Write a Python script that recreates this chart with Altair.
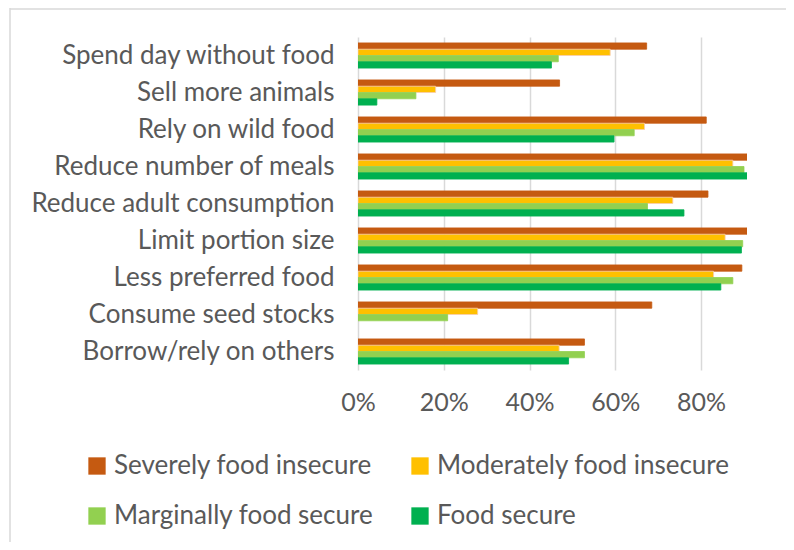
import altair as alt
import pandas as pd

categories = [
    "Spend day without food",
    "Sell more animals",
    "Rely on wild food",
    "Reduce number of meals",
    "Reduce adult consumption",
    "Limit portion size",
    "Less preferred food",
    "Consume seed stocks",
    "Borrow/rely on others",
]
series = [
    "Severely food insecure",
    "Moderately food insecure",
    "Marginally food secure",
    "Food secure",
]
severe = [67.3, 47.0, 81.2, 90.7, 81.6, 90.7, 89.5, 68.5, 52.8]
moderate = [58.8, 18.1, 66.8, 87.4, 73.4, 85.6, 82.9, 27.9, 46.9]
marginal = [46.7, 13.5, 64.4, 90.0, 67.5, 89.7, 87.4, 20.9, 52.8]
secure = [45.1, 4.4, 59.7, 90.7, 76.0, 89.4, 84.6, 0.0, 49.1]
tick_values = [0, 0.2, 0.4, 0.6, 0.8]

fill_colors = {"Severely food insecure": "#C55A11", "Moderately food insecure": "#FFC000",
               "Marginally food secure": "#92D050", "Food secure": "#00B050"}
stroke_colors = {"Severely food insecure": "#C55A11", "Moderately food insecure": "#F8CBAD",
                 "Marginally food secure": "#92D050", "Food secure": "#00B050"}
# legend is laid out column by column: put the entries so rows read as in the reference
legend_order = [series[0], series[2], series[1], series[3]]

rows = []
for s, vals in zip(series, [severe, moderate, marginal, secure]):
    for c, v in zip(categories, vals):
        if v > 0:
            rows.append({"Category": c, "Series": s, "Value": v / 100})
df = pd.DataFrame(rows)

FONT = "Lato"
TXT = "#595959"

bars = alt.Chart(df).mark_bar(clip=True, strokeWidth=0.8).encode(
    y=alt.Y(
        "Category:N",
        sort=categories,
        scale=alt.Scale(paddingInner=0.32, paddingOuter=0.16),
        axis=alt.Axis(
            title=None, ticks=False, domain=False, labelPadding=24,
            labelFontSize=26, labelColor=TXT, labelFont=FONT, labelLimit=400,
        ),
    ),
    yOffset=alt.YOffset("Series:N", sort=series),
    x=alt.X(
        "Value:Q",
        scale=alt.Scale(domain=[0, 0.907], nice=False, zero=True),
        axis=alt.Axis(
            title=None, format=".0%", values=tick_values, ticks=False, domain=False,
            grid=True, gridColor="#D9D9D9", gridWidth=1.5, labelFlush=False,
            labelPadding=20, labelFontSize=25, labelColor=TXT, labelFont=FONT,
        ),
    ),
    color=alt.Color(
        "Series:N",
        scale=alt.Scale(domain=legend_order, range=[fill_colors[s] for s in legend_order]),
        legend=alt.Legend(
            title=None, orient="none", legendX=-274, legendY=416, columns=2,
            symbolType="square", symbolSize=300, symbolStrokeWidth=0,
            labelFontSize=26, labelColor=TXT, labelFont=FONT, labelOffset=4,
            columnPadding=33, rowPadding=24, labelLimit=400,
        ),
    ),
    stroke=alt.Stroke(
        "Series:N",
        scale=alt.Scale(domain=legend_order, range=[stroke_colors[s] for s in legend_order]),
        legend=None,
    ),
)

frame_df = pd.DataFrame({"k": [0]})
frame_left = alt.Chart(frame_df).mark_rule(color="#D9D9D9", strokeWidth=1.5).encode(
    x=alt.value(-348), y=alt.value(-29), y2=alt.value(505)
)
frame_top = alt.Chart(frame_df).mark_rule(color="#D9D9D9", strokeWidth=1.5).encode(
    y=alt.value(-28), x=alt.value(-348), x2=alt.value(440)
)

chart = alt.layer(frame_left, frame_top, bars).properties(
    width=389,
    height=333,
    autosize=alt.AutoSizeParams(type="none"),
    padding={"left": 350, "top": 29, "right": 39, "bottom": 172},
).configure(font=FONT).configure_view(stroke=None)

chart.save("out.html", embed_options={"renderer": "svg", "actions": False})
